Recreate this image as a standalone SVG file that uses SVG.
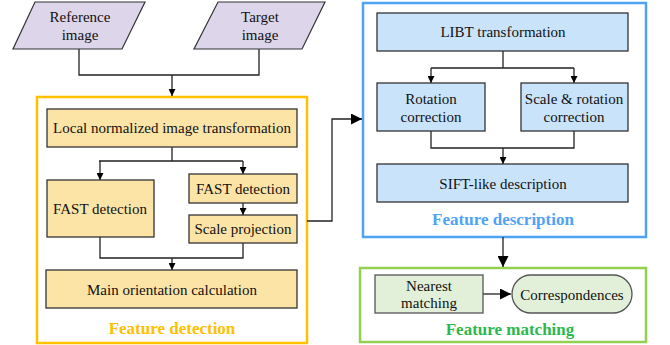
<svg xmlns="http://www.w3.org/2000/svg" width="670" height="345" viewBox="0 0 670 345">
<defs>
<marker id="ah" viewBox="0 0 10 10" refX="10" refY="5" markerWidth="7" markerHeight="7" markerUnits="userSpaceOnUse" orient="auto">
<path d="M0,0 L10,5 L0,10 z" fill="#000"/>
</marker>
<marker id="ahb" viewBox="0 0 10 10" refX="10" refY="5" markerWidth="11" markerHeight="11" markerUnits="userSpaceOnUse" orient="auto">
<path d="M0,0 L10,5 L0,10 z" fill="#000"/>
</marker>
</defs>
<style>
text{font-family:'Liberation Serif','Times New Roman',Times,'DejaVu Serif',serif;font-size:15px;fill:#111;text-anchor:middle;dominant-baseline:central}
.title{font-size:17px;font-weight:bold}
.box{stroke:#333;stroke-width:1.3}
.y{fill:#FCE4A6}
.b{fill:#C9E3FB}
.g{fill:#E2F0D9;stroke:#555}
.p{fill:#DDD5EA;stroke:#333;stroke-width:1.2}
.c{fill:none;stroke:#222;stroke-width:1.3}
</style>
<g id="containers">
<rect id="feature-detection" x="37" y="97" width="270" height="246" fill="#fff" stroke="#FFC000" stroke-width="2.5"/>
<rect id="feature-description" x="363" y="3" width="283" height="234" fill="#fff" stroke="#4FA3F7" stroke-width="2.5"/>
<rect id="feature-matching" x="360" y="268" width="286" height="74" fill="#fff" stroke="#92D050" stroke-width="2.5"/>
<text class="title" x="172" y="328" style="fill:#FFC000">Feature detection</text>
<text class="title" x="503" y="219" style="fill:#4FA3F7">Feature description</text>
<text class="title" x="510" y="329" style="fill:#2DB84D">Feature matching</text>
</g>
<g id="connectors">
<path class="c" d="M79,49 V75 H259 V49"/>
<path class="c" d="M172,75 V96" marker-end="url(#ah)"/>
<path class="c" d="M172,147 V161 M99,161 H243"/>
<path class="c" d="M100,161 V180" marker-end="url(#ah)"/>
<path class="c" d="M243,161 V174" marker-end="url(#ah)"/>
<path class="c" d="M243,203 V215" marker-end="url(#ah)"/>
<path class="c" d="M100,237 V258 H243 V243"/>
<path class="c" d="M172,258 V270" marker-end="url(#ah)"/>
<path class="c" d="M307,221 H332 V119 H362" marker-end="url(#ahb)"/>
<path class="c" d="M503,51 V68 M431,68 H574"/>
<path class="c" d="M431,68 V83" marker-end="url(#ah)"/>
<path class="c" d="M574,68 V83" marker-end="url(#ah)"/>
<path class="c" d="M431,131 V148 H574 V131"/>
<path class="c" d="M503,148 V164" marker-end="url(#ah)"/>
<path class="c" d="M503,237 V267" marker-end="url(#ahb)"/>
<path class="c" d="M483,294 H511" marker-end="url(#ahb)"/>
</g>
<g id="reference-image">
<polygon class="p" points="35,2 145,2 122,49 13,49"/>
<text x="80" y="17">Reference</text>
<text x="80" y="35">image</text>
</g>
<g id="target-image">
<polygon class="p" points="218,2 325,2 302,49 194,49"/>
<text x="260" y="17">Target</text>
<text x="260" y="35">image</text>
</g>
<g id="local-normalized">
<rect class="box y" x="47" y="109" width="250" height="38"/>
<text x="172" y="128">Local normalized image transformation</text>
</g>
<g id="fast-left">
<rect class="box y" x="47" y="180" width="107" height="57"/>
<text x="100" y="209">FAST detection</text>
</g>
<g id="fast-right">
<rect class="box y" x="189" y="174" width="108" height="29"/>
<text x="243" y="189">FAST detection</text>
</g>
<g id="scale-projection">
<rect class="box y" x="189" y="215" width="108" height="28"/>
<text x="243" y="229">Scale projection</text>
</g>
<g id="main-orientation">
<rect class="box y" x="46" y="270" width="251" height="38"/>
<text x="172" y="290">Main orientation calculation</text>
</g>
<g id="libt">
<rect class="box b" x="377" y="13" width="251" height="38"/>
<text x="503" y="32">LIBT transformation</text>
</g>
<g id="rotation-correction">
<rect class="box b" x="377" y="83" width="108" height="48"/>
<text x="431" y="99">Rotation</text>
<text x="431" y="117">correction</text>
</g>
<g id="scale-rotation-correction">
<rect class="box b" x="521" y="83" width="107" height="48"/>
<text x="574" y="99">Scale &amp; rotation</text>
<text x="574" y="117">correction</text>
</g>
<g id="sift-like">
<rect class="box b" x="377" y="164" width="251" height="38"/>
<text x="503" y="184">SIFT-like description</text>
</g>
<g id="nearest-matching">
<rect class="box g" x="375" y="275" width="108" height="38"/>
<text x="429" y="286">Nearest</text>
<text x="429" y="303">matching</text>
</g>
<g id="correspondences">
<rect class="box g" x="512" y="275" width="120" height="38" rx="19" ry="19"/>
<text x="572" y="295">Correspondences</text>
</g>
</svg>
